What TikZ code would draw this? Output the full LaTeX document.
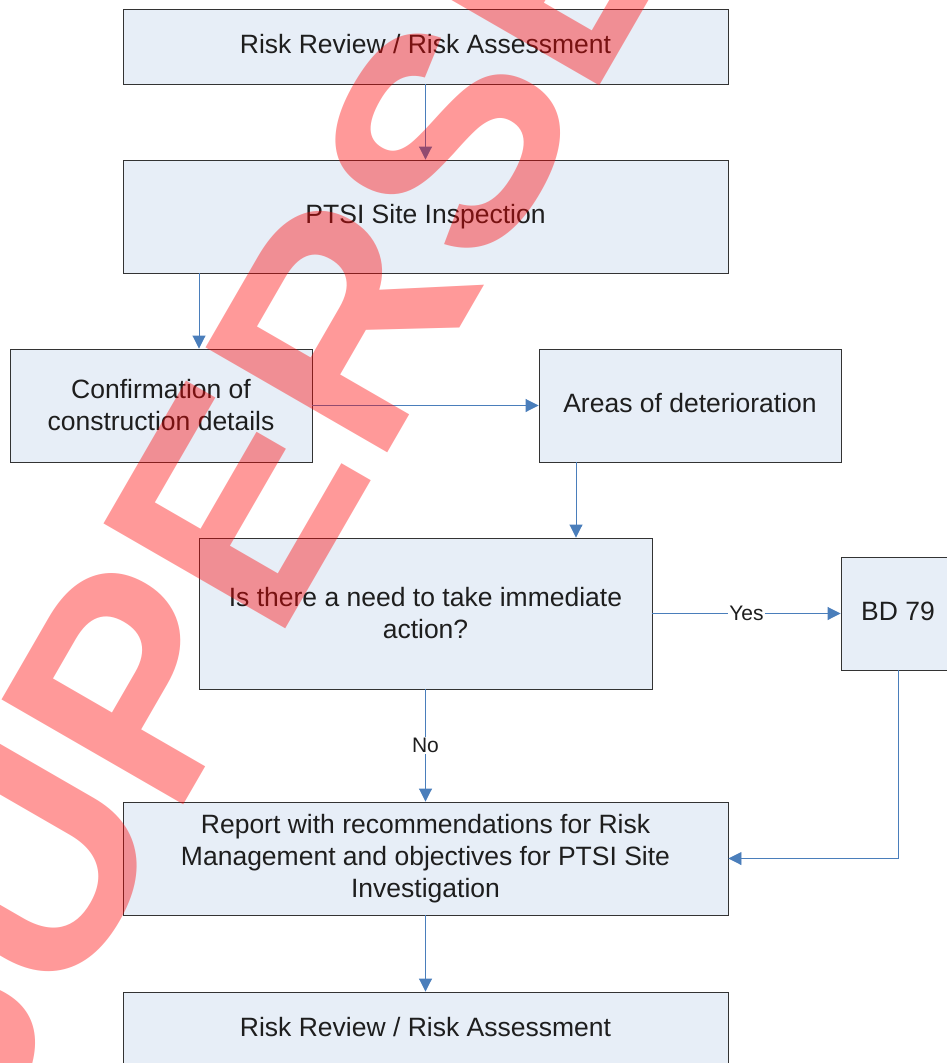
\documentclass[tikz,border=0pt]{standalone}
\usepackage{fontspec}
\setmainfont{Liberation Sans}
\usetikzlibrary{arrows.meta,shadows}
\definecolor{boxfill}{HTML}{E7EEF7}
\definecolor{boxline}{HTML}{333333}
\definecolor{arrblue}{HTML}{4A7EBB}
\definecolor{txt}{HTML}{1E1E1E}
\begin{document}
\begin{tikzpicture}[x=1pt,y=-1pt,
  box/.style={draw=boxline, line width=0.9pt, fill=boxfill, text=txt, align=center,
    inner sep=0pt, font=\fontsize{26.5}{32}\selectfont,
    general shadow={fill=gray!80, shadow xshift=1pt, shadow yshift=-1pt}},
  oneline/.style={text height=19pt, text depth=5.4pt},
  arr/.style={draw=arrblue, line width=0.9pt, -{Triangle[width=13pt,length=13pt]}},
  lbl/.style={fill=white, text=txt, inner sep=1.5pt, font=\fontsize{21}{25}\selectfont}]
\useasboundingbox (0,0) rectangle (947,1063);
\clip (0,0) rectangle (947,1063);
\fill[white] (0,0) rectangle (947,1063);

% boxes
\node[box, oneline, minimum width=605pt, minimum height=75pt] (r1) at (425.5,46.5) {Risk Review / Risk Assessment};
\node[box, oneline, minimum width=605pt, minimum height=113pt] (ptsi) at (425.5,216.5) {PTSI Site Inspection};
\node[box, minimum width=302pt, minimum height=113pt] (conf) at (161,405.5) {Confirmation of\\construction details};
\node[box, oneline, minimum width=302pt, minimum height=113pt] (areas) at (690,405.5) {Areas of deterioration};
\node[box, minimum width=453pt, minimum height=151pt] (need) at (425.5,613.5) {Is there a need to take immediate\\action?};
\node[box, oneline, minimum width=114pt, minimum height=113pt] (bd) at (898,613.5) {BD 79};
\node[box, minimum width=605pt, minimum height=113pt] (report) at (425.5,858.5) {Report with recommendations for Risk\\Management and objectives for PTSI Site\\Investigation};
\node[box, oneline, minimum width=605pt, minimum height=75pt] (r2) at (425.5,1029.5) {Risk Review / Risk Assessment};

% helper coordinates for off-centre connectors
\coordinate (cx1) at (199,0);
\coordinate (cx2) at (576,0);

% connectors
\draw[arr] (r1.south) -- (ptsi.north);
\draw[arr] (ptsi.south -| cx1) -- (conf.north -| cx1);
\draw[arr] (conf.east) -- (areas.west);
\draw[arr] (areas.south -| cx2) -- (need.north -| cx2);
\draw[arr] (need.east) -- node[lbl] {Yes} (bd.west);
\draw[arr] (need.south) -- node[lbl] {No} (report.north);
\draw[arr] (bd.south) |- (report.east);
\draw[arr] (report.south) -- (r2.north);

% watermark
\node[rotate=60, anchor=base west, inner sep=0pt, text=red, text opacity=0.4,
  font=\fontsize{305}{305}\selectfont\bfseries] (wm) at (-38,1190) {SUPERSEDED};
\end{tikzpicture}
\end{document}
